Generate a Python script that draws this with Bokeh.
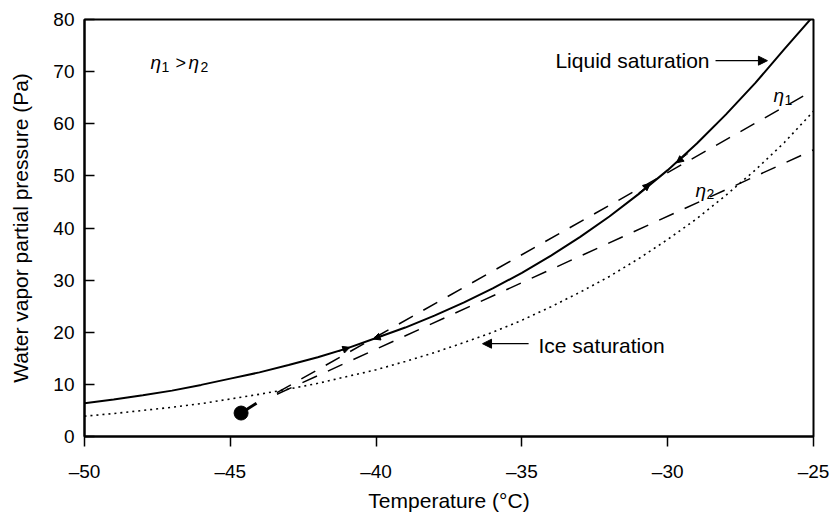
from bokeh.plotting import figure
from bokeh.models import FixedTicker, Label, Arrow, NormalHead, Range1d
from bokeh.embed import file_html
from bokeh.resources import INLINE

# ---- data ----
temps = [-50, -49, -48, -47, -46, -45, -44, -43, -42, -41, -40, -39, -38,
         -37, -36, -35, -34, -33, -32, -31, -30, -29, -28, -27, -26, -25]
liquid_sat = [6.4, 7.1, 7.9, 8.8, 9.9, 11.1, 12.3, 13.7, 15.2, 16.9, 18.9, 20.9, 23.2,
              25.7, 28.4, 31.4, 34.7, 38.3, 42.2, 46.5, 51.1, 56.2, 61.8, 67.8, 74.3, 80.7]
ice_sat = [3.9, 4.4, 5.0, 5.6, 6.3, 7.2, 8.1, 9.1, 10.2, 11.5, 12.8, 14.4, 16.1,
           18.0, 20.0, 22.3, 24.9, 27.7, 30.7, 34.1, 37.8, 41.8, 46.3, 51.1, 56.4, 62.4]
eta1_T = [-43.4, -25.0]
eta1_P = [8.4, 66.4]
eta2_T = [-43.4, -25.0]
eta2_P = [8.1, 55.0]
exhaust_T = [-44.63]
exhaust_P = [4.5]
exhaust_tail_T = [-44.63, -44.1]
exhaust_tail_P = [4.5, 6.4]

x_ticks = [-50, -45, -40, -35, -30, -25]
x_tick_labels = ["\u201350", "\u201345", "\u201340", "\u201335", "\u201330", "\u201325"]
y_ticks = [0, 10, 20, 30, 40, 50, 60, 70, 80]

FONT = "Liberation Sans"

p = figure(width=834, height=514, output_backend="svg", toolbar_location=None,
           x_range=Range1d(-50, -25), y_range=Range1d(0, 80),
           min_border_left=84, min_border_right=21, min_border_top=19,
           min_border_bottom=78, background_fill_color="white",
           border_fill_color="white")

p.xgrid.visible = False
p.ygrid.visible = False
p.outline_line_color = "black"
p.outline_line_width = 2

p.xaxis.ticker = FixedTicker(ticks=x_ticks)
p.xaxis.major_label_overrides = {t: l for t, l in zip(x_ticks, x_tick_labels)}
p.yaxis.ticker = FixedTicker(ticks=y_ticks)

for ax in (p.xaxis[0], p.yaxis[0]):
    ax.axis_line_width = 2
    ax.axis_line_color = "black"
    ax.major_tick_line_width = 1.5
    ax.minor_tick_line_color = None
    ax.major_label_text_font = FONT
    ax.major_label_text_font_size = "19px"
    ax.major_label_text_color = "black"
    ax.axis_label_text_font = FONT
    ax.axis_label_text_font_size = "21px"
    ax.axis_label_text_font_style = "normal"
    ax.axis_label_text_color = "black"

p.xaxis.major_tick_in = 0
p.xaxis.major_tick_out = 10
p.xaxis.major_label_standoff = 14
p.xaxis.axis_label_standoff = 4
p.xaxis.axis_label = "Temperature (\u00b0C)"

p.yaxis.major_tick_in = 10
p.yaxis.major_tick_out = 0
p.yaxis.major_label_standoff = 10
p.yaxis.axis_label_standoff = 18
p.yaxis.axis_label = "Water vapor partial pressure (Pa)"

# curves
p.line(temps, liquid_sat, line_color="black", line_width=2)
p.line(temps, ice_sat, line_color="black", line_width=1.6, line_dash="2 4")
p.line(eta1_T, eta1_P, line_color="black", line_width=1.5, line_dash="16 12")
p.line(eta2_T, eta2_P, line_color="black", line_width=1.5, line_dash="16 12")
p.line(exhaust_tail_T, exhaust_tail_P, line_color="black", line_width=3)
p.scatter(exhaust_T, exhaust_P, size=14, color="black")

def lab(x, y, text, size="21px", style="normal", xo=0, yo=0):
    p.add_layout(Label(x=x, y=y, text=text, x_offset=xo, y_offset=yo,
                       text_font=FONT, text_font_size=size,
                       text_font_style=style, text_color="black",
                       text_baseline="middle", text_align="left"))

# eta1 > eta2
lab(-47.74, 71.75, "\u03b7", "19px", "italic")
lab(-47.74, 71.75, "1", "14px", xo=11, yo=-4)
lab(-47.74, 71.75, ">", "18px", xo=25)
lab(-47.74, 71.75, "\u03b7", "19px", "italic", xo=38)
lab(-47.74, 71.75, "2", "14px", xo=50, yo=-4)

# curve tags
lab(-26.37, 65.4, "\u03b7", "19px", "italic")
lab(-26.37, 65.4, "1", "14px", xo=11, yo=-4)
lab(-29.05, 47.2, "\u03b7", "19px", "italic")
lab(-29.05, 47.2, "2", "14px", xo=11, yo=-4)

# Liquid saturation
lab(-33.85, 72.1, "Liquid saturation")
p.add_layout(Arrow(end=NormalHead(size=9, fill_color="black", line_color="black"),
                   x_start=-28.36, y_start=72.1, x_end=-26.58, y_end=72.1,
                   line_width=1.2, line_color="black"))
# Ice saturation
lab(-34.43, 17.5, "Ice saturation")
p.add_layout(Arrow(end=NormalHead(size=9, fill_color="black", line_color="black"),
                   x_start=-34.77, y_start=17.8, x_end=-36.35, y_end=17.8,
                   line_width=1.2, line_color="black"))

# small arrowheads on the liquid curve
for xs, ys, xe, ye in [(-41.3, 16.3, -40.9, 17.1), (-39.7, 19.5, -40.1, 18.7),
                       (-31.0, 46.7, -30.6, 48.5), (-29.3, 54.3, -29.7, 52.5)]:
    p.add_layout(Arrow(end=NormalHead(size=7, fill_color="black", line_color="black"),
                       x_start=xs, y_start=ys, x_end=xe, y_end=ye,
                       line_width=1, line_color="black"))

open("out.html", "w").write(file_html(p, INLINE))
